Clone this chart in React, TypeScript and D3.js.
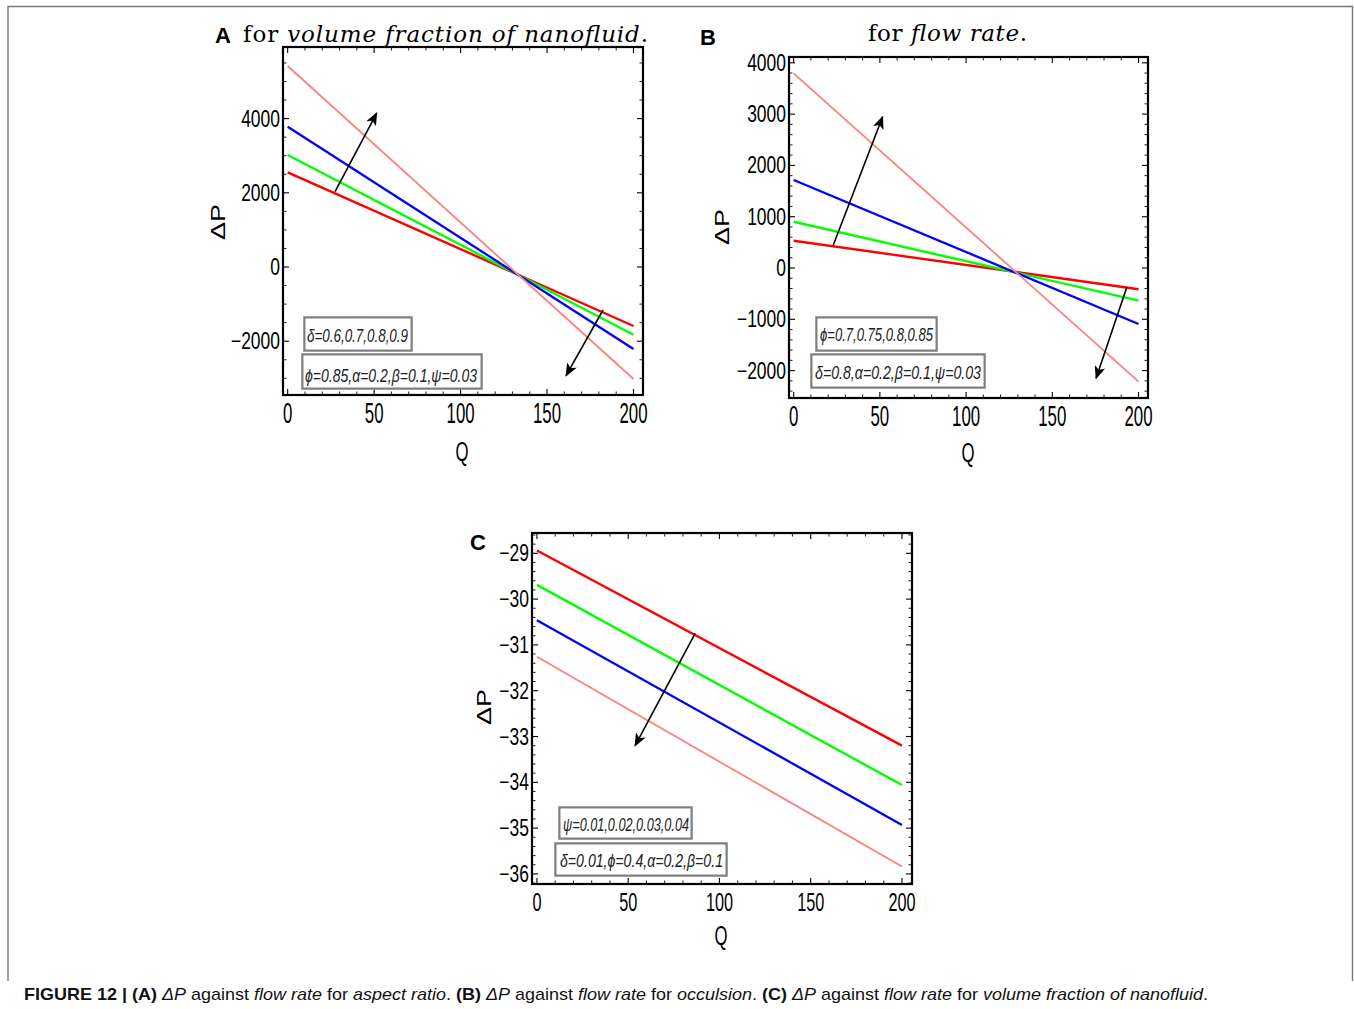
import React from 'react';
import * as d3 from 'd3';

// Q range of every curve and the shared x ticks
const qRange = [0, 200];
const xTicks = [0, 50, 100, 150, 200];
const xDomain = [-2.7, 205.5];
const lineColors = ['#ff0000', '#00ff00', '#0000ff', '#ff8080'];
const lineWidths = [2.4, 2.4, 2.3, 1.8];

// (A) delta = 0.6, 0.7, 0.8, 0.9 ; values of ΔP at Q = 0 and Q = 200
const aRed = [2553, -1590];
const aGreen = [3019, -1825];
const aBlue = [3782, -2210];
const aPink = [5418, -3019];
const aYTicks = [-2000, 0, 2000, 4000];

// (B) phi = 0.7, 0.75, 0.8, 0.85
const bRed = [532, -415];
const bGreen = [902, -637];
const bBlue = [1715, -1092];
const bPink = [3795, -2216];
const bYTicks = [-2000, -1000, 0, 1000, 2000, 3000, 4000];

// (C) psi = 0.01, 0.02, 0.03, 0.04
const cRed = [-28.94, -33.2];
const cGreen = [-29.69, -34.06];
const cBlue = [-30.46, -34.93];
const cPink = [-31.26, -35.84];
const cYTicks = [-36, -35, -34, -33, -32, -31, -30, -29];

// arrows: [from, to] in (Q, ΔP)
const aArrows = [
  [[27.4, 2030], [51.5, 4150]],
  [[182.4, -1159], [161, -2930]],
];
const bArrows = [
  [[23, 448], [51.6, 2949]],
  [[193.2, -376], [175.4, -2150]],
];
const cArrows = [[[86.7, -30.75], [53.8, -33.2]]];

const aLegend = ['δ=0.6,0.7,0.8,0.9', 'ϕ=0.85,α=0.2,β=0.1,ψ=0.03'];
const bLegend = ['ϕ=0.7,0.75,0.8,0.85', 'δ=0.8,α=0.2,β=0.1,ψ=0.03'];
const cLegend = ['ψ=0.01,0.02,0.03,0.04', 'δ=0.01,ϕ=0.4,α=0.2,β=0.1'];

const fmt = (v: number) => (v < 0 ? '\u2212' + Math.abs(v) : String(v));

const panels = [
  {
    key: 'A',
    left: 283, right: 643, top: 47, bottom: 395,
    yDomain: [-3450, 5930],
    yTicks: aYTicks, yMinor: 500,
    series: [aRed, aGreen, aBlue, aPink],
    arrows: aArrows,
    legend: aLegend,
    boxes: [
      { x: 304, y: 317, w: 108, h: 34, tx: 307, ty: 342, tl: 101 },
      { x: 302, y: 354, w: 180, h: 35, tx: 305, ty: 382, tl: 172 },
    ],
    xFont: 29, xScale: 0.58,
    dpLabel: [218, 222], qLabel: [462, 452],
  },
  {
    key: 'B',
    left: 789, right: 1148, top: 57, bottom: 398,
    yDomain: [-2534, 4113],
    yTicks: bYTicks, yMinor: 200,
    series: [bRed, bGreen, bBlue, bPink],
    arrows: bArrows,
    legend: bLegend,
    boxes: [
      { x: 816, y: 317, w: 121, h: 34, tx: 820, ty: 341, tl: 113 },
      { x: 811, y: 354, w: 174, h: 34, tx: 815, ty: 378.5, tl: 166 },
    ],
    xFont: 29, xScale: 0.58,
    dpLabel: [722, 227], qLabel: [968, 453],
  },
  {
    key: 'C',
    left: 532, right: 912, top: 533, bottom: 884,
    yDomain: [-36.22, -28.557],
    yTicks: cYTicks, yMinor: 0.2,
    series: [cRed, cGreen, cBlue, cPink],
    arrows: cArrows,
    legend: cLegend,
    boxes: [
      { x: 559, y: 807, w: 133, h: 32, tx: 563, ty: 831, tl: 126 },
      { x: 555, y: 843, w: 172, h: 33, tx: 560, ty: 867, tl: 163 },
    ],
    xFont: 25, xScale: 0.65,
    dpLabel: [484, 707], qLabel: [721, 936],
  },
];

const sans = 'Liberation Sans, Arial, sans-serif';
const serif = 'DejaVu Serif, Liberation Serif, serif';

function Panel({ p }: { p: any }) {
  const x = d3.scaleLinear().domain(xDomain).range([p.left, p.right]);
  const y = d3.scaleLinear().domain(p.yDomain).range([p.bottom, p.top]);
  const line = d3
    .line<[number, number]>()
    .x((d) => x(d[0]))
    .y((d) => y(d[1]));

  const majLen = 6;
  const minLen = 3.5;
  const xMinor = d3.range(0, 206, 10).filter((v) => v % 50 !== 0);
  const yMinor = d3
    .range(Math.ceil(p.yDomain[0] / p.yMinor), Math.floor(p.yDomain[1] / p.yMinor) + 1)
    .map((k) => +(k * p.yMinor).toFixed(4))
    .filter((v) => !p.yTicks.some((t: number) => Math.abs(t - v) < 1e-6));

  return (
    <g>
      {p.series.map((s: number[], i: number) => (
        <path
          key={i}
          d={line(qRange.map((q, j) => [q, s[j]]) as [number, number][]) || ''}
          fill="none"
          stroke={lineColors[i]}
          strokeWidth={lineWidths[i]}
        />
      ))}

      {/* ticks on all four sides */}
      {xTicks.map((t) => (
        <g key={'xt' + t} stroke="#000" strokeWidth={1.1}>
          <line x1={x(t)} x2={x(t)} y1={p.bottom} y2={p.bottom - majLen} />
          <line x1={x(t)} x2={x(t)} y1={p.top} y2={p.top + majLen} />
        </g>
      ))}
      {xMinor.map((t) => (
        <g key={'xm' + t} stroke="#000" strokeWidth={0.9}>
          <line x1={x(t)} x2={x(t)} y1={p.bottom} y2={p.bottom - minLen} />
          <line x1={x(t)} x2={x(t)} y1={p.top} y2={p.top + minLen} />
        </g>
      ))}
      {p.yTicks.map((t: number) => (
        <g key={'yt' + t} stroke="#000" strokeWidth={1.1}>
          <line x1={p.left} x2={p.left + majLen} y1={y(t)} y2={y(t)} />
          <line x1={p.right} x2={p.right - majLen} y1={y(t)} y2={y(t)} />
        </g>
      ))}
      {yMinor.map((t: number) => (
        <g key={'ym' + t} stroke="#000" strokeWidth={0.9}>
          <line x1={p.left} x2={p.left + minLen} y1={y(t)} y2={y(t)} />
          <line x1={p.right} x2={p.right - minLen} y1={y(t)} y2={y(t)} />
        </g>
      ))}

      <rect
        x={p.left}
        y={p.top}
        width={p.right - p.left}
        height={p.bottom - p.top}
        fill="none"
        stroke="#000"
        strokeWidth={2.2}
      />

      {/* tick labels */}
      {xTicks.map((t) => (
        <text
          key={'xl' + t}
          transform={`translate(${x(t)},${p.bottom + 18}) scale(${p.xScale},1)`}
          textAnchor="middle"
          dy="0.35em"
          fontFamily={sans}
          fontSize={p.xFont}
        >
          {fmt(t)}
        </text>
      ))}
      {p.yTicks.map((t: number) => (
        <text
          key={'yl' + t}
          transform={`translate(${p.left - 3},${y(t)}) scale(0.76,1)`}
          textAnchor="end"
          dy="0.35em"
          fontFamily={sans}
          fontSize={23}
        >
          {fmt(t)}
        </text>
      ))}

      {/* axis labels */}
      <text
        transform={`translate(${p.dpLabel[0]},${p.dpLabel[1]}) rotate(-90)`}
        textAnchor="middle"
        dy="0.35em"
        fontFamily={sans}
        fontSize={20}
        textLength={36}
        lengthAdjust="spacingAndGlyphs"
      >
        ΔP
      </text>
      <text
        transform={`translate(${p.qLabel[0]},${p.qLabel[1]}) scale(0.62,1)`}
        textAnchor="middle"
        dy="0.35em"
        fontFamily={sans}
        fontSize={27}
      >
        Q
      </text>

      {/* arrows */}
      {p.arrows.map((a: number[][], i: number) => (
        <line
          key={'ar' + i}
          x1={x(a[0][0])}
          y1={y(a[0][1])}
          x2={x(a[1][0])}
          y2={y(a[1][1])}
          stroke="#000"
          strokeWidth={1.6}
          markerEnd="url(#arrowHead)"
        />
      ))}

      {/* parameter boxes */}
      {p.boxes.map((b: any, i: number) => (
        <g key={'bx' + i}>
          <rect x={b.x} y={b.y} width={b.w} height={b.h} fill="#fff" stroke="#888" strokeWidth={1.6} />
          <rect x={b.x + 1} y={b.y + 1} width={b.w - 2} height={b.h - 2} fill="none" stroke="#333" strokeWidth={0.6} />
          <text
            x={b.tx}
            y={b.ty}
            fontFamily={sans}
            fontStyle="italic"
            fontSize={19}
            textLength={b.tl}
            lengthAdjust="spacingAndGlyphs"
            fill="#222"
          >
            {p.legend[i]}
          </text>
        </g>
      ))}
    </g>
  );
}

export default function App() {
  return (
    <svg
      width={1354}
      height={1009}
      style={{ position: 'absolute', left: 0, top: 0, background: '#fff' }}
    >
      <defs>
        <marker
          id="arrowHead"
          viewBox="0 0 12 10"
          refX={11}
          refY={5}
          markerWidth={17}
          markerHeight={11}
          markerUnits="userSpaceOnUse"
          orient="auto"
        >
          <path d="M0,0 L12,5 L0,10 L3,5 Z" fill="#000" />
        </marker>
      </defs>

      <path d="M8,981 V6.5 H1352.5 V981" fill="none" stroke="#777" strokeWidth={1.4} />

      {/* panel letters and titles */}
      <text x={215} y={43} fontFamily={sans} fontWeight="bold" fontSize={22}>A</text>
      <text x={243} y={42} fontFamily={serif} fontSize={23} textLength={405} lengthAdjust="spacing">
        for <tspan fontStyle="italic">volume fraction of nanofluid</tspan>.
      </text>
      <text x={700} y={45} fontFamily={sans} fontWeight="bold" fontSize={22}>B</text>
      <text x={868} y={41} fontFamily={serif} fontSize={23} textLength={159} lengthAdjust="spacing">
        for <tspan fontStyle="italic">flow rate</tspan>.
      </text>
      <text x={470} y={550} fontFamily={sans} fontWeight="bold" fontSize={22}>C</text>

      {panels.map((p) => (
        <Panel key={p.key} p={p} />
      ))}

      <text
        x={24}
        y={1000}
        fontFamily={sans}
        fontSize={17}
        textLength={1184}
        lengthAdjust="spacingAndGlyphs"
        fill="#111"
      >
        <tspan fontWeight="bold">FIGURE 12 | (A)</tspan> <tspan fontStyle="italic">ΔP</tspan> against{' '}
        <tspan fontStyle="italic">flow rate</tspan> for <tspan fontStyle="italic">aspect ratio</tspan>.{' '}
        <tspan fontWeight="bold">(B)</tspan> <tspan fontStyle="italic">ΔP</tspan> against{' '}
        <tspan fontStyle="italic">flow rate</tspan> for <tspan fontStyle="italic">occulsion</tspan>.{' '}
        <tspan fontWeight="bold">(C)</tspan> <tspan fontStyle="italic">ΔP</tspan> against{' '}
        <tspan fontStyle="italic">flow rate</tspan> for{' '}
        <tspan fontStyle="italic">volume fraction of nanofluid</tspan>.
      </text>
    </svg>
  );
}
